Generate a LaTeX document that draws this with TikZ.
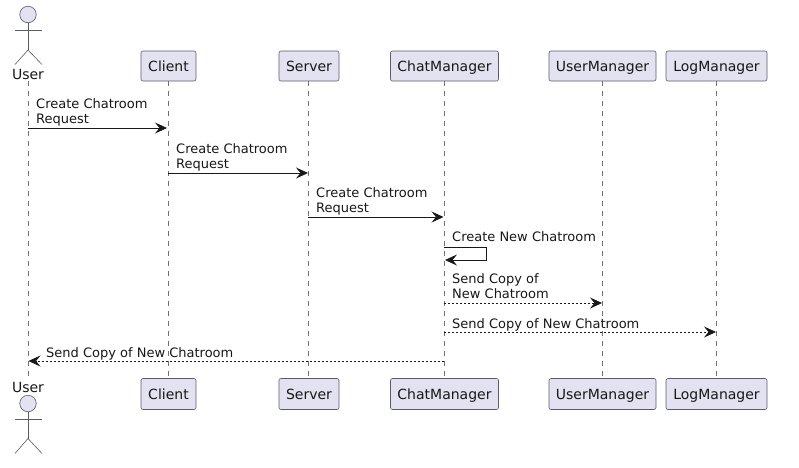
\documentclass[tikz,border=0pt]{standalone}
\usepackage{fontspec}
\setmainfont{DejaVu Sans}
\usepackage{tikz}
\usetikzlibrary{arrows.meta}
\definecolor{partfill}{HTML}{E2E2F0}
\definecolor{partline}{HTML}{5A5A6E}
\definecolor{lifeline}{HTML}{707078}
\definecolor{msgline}{HTML}{181818}
\tikzset{
	part/.style={shape=rectangle,rounded corners=2pt,draw=partline,fill=partfill,line width=0.6pt,text=msgline,font=\fontsize{14}{16}\selectfont,minimum height=30pt,inner sep=0pt,text height=10.2pt,text depth=0pt,anchor=center},
	head/.style={shape=circle,draw=partline,fill=partfill,line width=0.6pt,minimum size=16.5pt,inner sep=0pt},
	actorname/.style={text=msgline,font=\fontsize{14}{16}\selectfont,inner sep=0pt,text height=10.2pt,text depth=0pt},
	msg/.style={text=msgline,font=\fontsize{13}{15}\selectfont,inner sep=0pt,anchor=base west,align=left},
	stick/.style={draw=partline,line width=0.6pt},
	life/.style={draw=lifeline,line width=0.5pt,dash pattern=on 5pt off 5pt},
	call/.style={draw=msgline,line width=0.8pt,-{Stealth[length=12pt,width=11pt,inset=4.5pt]}},
	reply/.style={call,dash pattern=on 2pt off 2pt},
}
\begin{document}
\begin{tikzpicture}[x=1pt,y=-1pt]
		\useasboundingbox (0,0) rectangle (799,467);
		\fill[white] (0,0) rectangle (799,467);

		% lifelines first, boxes on top
		\coordinate (U1) at (28,81);
		\coordinate (U2) at (28,378);
		\path [life] (U1) -- (U2);
		\coordinate (P2) at (168,81);
		\coordinate (Q2) at (168,378);
		\path [life] (P2) -- (Q2);
		\coordinate (P3) at (308,81);
		\coordinate (Q3) at (308,378);
		\path [life] (P3) -- (Q3);
		\coordinate (P4) at (444,81);
		\coordinate (Q4) at (444,378);
		\path [life] (P4) -- (Q4);
		\coordinate (P5) at (602,81);
		\coordinate (Q5) at (602,378);
		\path [life] (P5) -- (Q5);
		\coordinate (P6) at (716,81);
		\coordinate (Q6) at (716,378);
		\path [life] (P6) -- (Q6);

		\node[part,minimum width=55pt] (Client) at (168.5,66) {Client};
		\node[part,minimum width=60pt] (Server) at (309,66) {Server};
		\node[part,minimum width=108pt] (Chat) at (444.5,66) {ChatManager};
		\node[part,minimum width=107pt] (UserM) at (602.5,66) {UserManager};
		\node[part,minimum width=101pt] (LogM) at (716.5,66) {LogManager};
		\node[part,minimum width=55pt,minimum height=31pt] (ClientB) at (168.5,394) {Client};
		\node[part,minimum width=60pt,minimum height=31pt] (ServerB) at (309,394) {Server};
		\node[part,minimum width=108pt,minimum height=31pt] (ChatB) at (444.5,394) {ChatManager};
		\node[part,minimum width=107pt,minimum height=31pt] (UserMB) at (602.5,394) {UserManager};
		\node[part,minimum width=101pt,minimum height=31pt] (LogMB) at (716.5,394) {LogManager};

		% top actor
		\node[head] (HeadT) at (28,14.5) {};
		\node[actorname] (UserT) at (28,74) {User};
		\coordinate (HipT) at (28,50);
		\coordinate (ArmLT) at (15,30);
		\coordinate (ArmRT) at (42,30);
		\coordinate (FootLT) at (15,64.5);
		\coordinate (FootRT) at (42,64.5);
		\path [stick] (HeadT) -- (HipT);
		\path [stick] (ArmLT) -- (ArmRT);
		\path [stick] (FootLT) -- (HipT) -- (FootRT);

		% bottom actor
		\node[actorname] (UserB) at (28,387) {User};
		\node[head] (HeadB) at (28,403.5) {};
		\coordinate (HipB) at (28,438.5);
		\coordinate (ArmLB) at (15,419);
		\coordinate (ArmRB) at (42,419);
		\coordinate (FootLB) at (15,453.5);
		\coordinate (FootRB) at (42,453.5);
		\path [stick] (HeadB) -- (HipB);
		\path [stick] (ArmLB) -- (ArmRB);
		\path [stick] (FootLB) -- (HipB) -- (FootRB);

		% messages
		\coordinate (A1) at (28,128);
		\coordinate (A2) at (167,128);
		\coordinate (B1) at (168,173);
		\coordinate (B2) at (308,173);
		\coordinate (C1) at (308,217);
		\coordinate (C2) at (443.5,217);
		\coordinate (D1) at (444,247);
		\coordinate (D2) at (486.5,247);
		\coordinate (D3) at (486.5,260);
		\coordinate (D4) at (445,260);
		\coordinate (E1) at (444,303);
		\coordinate (E2) at (602,303);
		\coordinate (F1) at (444,332);
		\coordinate (F2) at (716,332);
		\coordinate (G1) at (444,361);
		\coordinate (G2) at (28.5,361);

		\path [call] (A1) -- (A2);
		\path [call] (B1) -- (B2);
		\path [call] (C1) -- (C2);
		\path [call] (D1) -- (D2) -- (D3) -- (D4);
		\path [reply] (E1) -- (E2);
		\path [reply] (F1) -- (F2);
		\path [reply] (G1) -- (G2);

		\node[msg] (a) at (36,108) {Create Chatroom};
		\node[msg] (a2) at (36,123) {Request};
		\node[msg] (b) at (176,153) {Create Chatroom};
		\node[msg] (b2) at (176,168) {Request};
		\node[msg] (c) at (316,197) {Create Chatroom};
		\node[msg] (c2) at (316,212) {Request};
		\node[msg] (d) at (452,241.5) {Create New Chatroom};
		\node[msg] (e) at (452,283) {Send Copy of};
		\node[msg] (e2) at (452,298) {New Chatroom};
		\node[msg] (f) at (452,328) {Send Copy of New Chatroom};
		\node[msg] (g) at (46,357) {Send Copy of New Chatroom};
\end{tikzpicture}
\end{document}
